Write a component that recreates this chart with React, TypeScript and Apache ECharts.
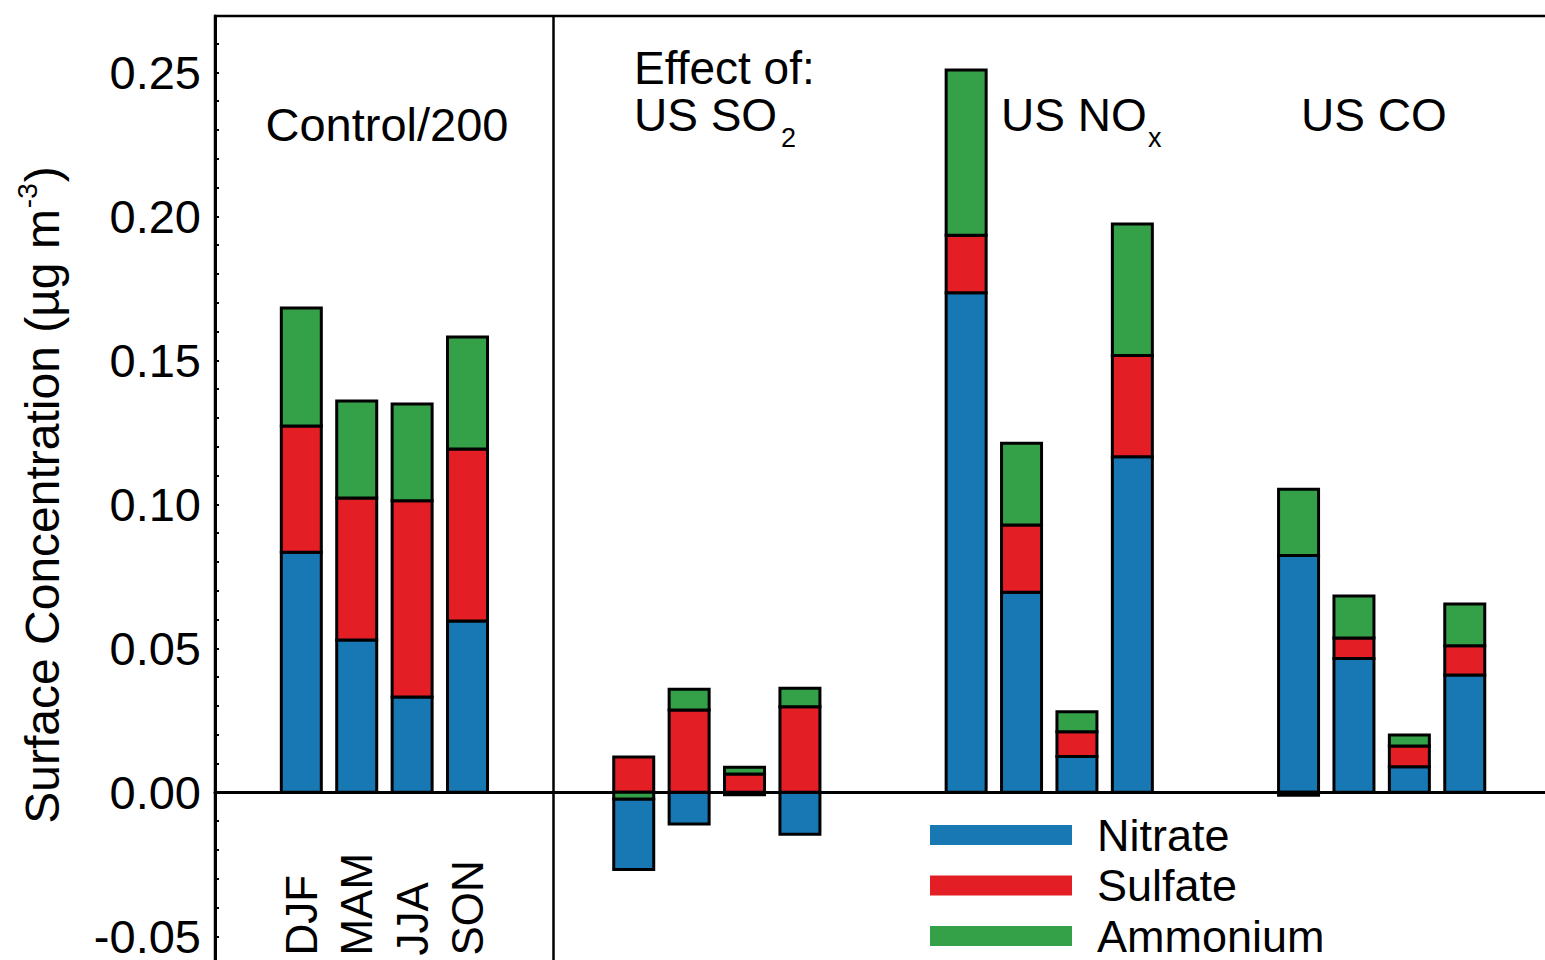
import React, { useEffect, useRef } from "react";
import * as echarts from "echarts";

const FONT = "'Liberation Sans', Arial, Helvetica, sans-serif";

const seasons = ["DJF", "MAM", "JJA", "SON"];
const speciesNames = ["Nitrate", "Sulfate", "Ammonium"];
const speciesColors = ["#1878b4", "#e31e25", "#34a148"];
// slot of every bar on the x axis: group g, season i -> 6*g + i
const barSlots = [0, 1, 2, 3, 6, 7, 8, 9, 12, 13, 14, 15, 18, 19, 20, 21];
// Control/200, US SO2, US NOx, US CO (each DJF, MAM, JJA, SON)
const nitrate = [
  0.0834, 0.0529, 0.0331, 0.0595,
  -0.0245, -0.011, -0.0008, -0.0146,
  0.1735, 0.0695, 0.0124, 0.1165,
  0.0822, 0.0465, 0.0089, 0.0407,
];
const sulfate = [
  0.0438, 0.0493, 0.0681, 0.0597,
  0.0123, 0.0286, 0.0064, 0.0297,
  0.0199, 0.0233, 0.0086, 0.0352,
  -0.001, 0.0071, 0.0072, 0.0102,
];
const ammonium = [
  0.041, 0.0337, 0.0336, 0.0389,
  -0.0023, 0.0072, 0.0023, 0.0064,
  0.0574, 0.0284, 0.007, 0.0456,
  0.023, 0.0146, 0.0038, 0.0145,
];
const yTicks = [-0.05, 0, 0.05, 0.1, 0.15, 0.2, 0.25];
const yTickLabels = ["-0.05", "0.00", "0.05", "0.10", "0.15", "0.20", "0.25"];

const dividerSlot = 4.54;
const seasonLabelY = -0.0567;

export default function App() {
  const ref = useRef<HTMLDivElement>(null);
  useEffect(() => {
    if (!ref.current) return;
    const chart = echarts.init(ref.current, null, { renderer: "svg" });
    const values = [nitrate, sulfate, ammonium];
    // stacked segments: positives upward N,S,A; negatives downward A,S,N
    const segs: any[][] = [[], [], []];
    barSlots.forEach((slot, i) => {
      let pos = 0;
      [0, 1, 2].forEach((k) => {
        const v = values[k][i];
        if (v >= 0) {
          segs[k][i] = [slot, pos, pos + v];
          pos += v;
        }
      });
      let neg = 0;
      [2, 1, 0].forEach((k) => {
        const v = values[k][i];
        if (v < 0) {
          segs[k][i] = [slot, neg, neg + v];
          neg += v;
        }
      });
    });
    const BAR_W = 40;
    const series: any[] = speciesNames.map((name, k) => ({
      type: "custom",
      name,
      silent: true,
      itemStyle: { color: speciesColors[k] },
      encode: { x: 0, y: [1, 2] },
      data: segs[k],
      renderItem: (params: any, api: any) => {
        const x = api.value(0);
        const p0 = api.coord([x, api.value(1)]);
        const p1 = api.coord([x, api.value(2)]);
        return {
          type: "rect",
          shape: {
            x: p0[0] - BAR_W / 2,
            y: Math.min(p0[1], p1[1]),
            width: BAR_W,
            height: Math.abs(p1[1] - p0[1]),
          },
          style: { fill: api.visual("color"), stroke: "#000", lineWidth: 3 },
        };
      },
    }));
    series.push({
      type: "scatter",
      name: "seasons",
      symbolSize: 0,
      silent: true,
      itemStyle: { opacity: 1 },
      data: seasons.map((s, i) => [barSlots[i], seasonLabelY]),
      label: {
        show: true,
        position: "inside",
        rotate: 90,
        align: "left",
        verticalAlign: "middle",
        formatter: (p: any) => seasons[p.dataIndex],
        fontSize: 44,
        fontFamily: FONT,
        color: "#000",
        opacity: 1,
      },
      markLine: {
        silent: true,
        symbol: "none",
        label: { show: false },
        lineStyle: { color: "#000", width: 2.5, type: "solid", opacity: 1 },
        data: [{ xAxis: dividerSlot }],
      },
    });
    const txt = (x: number, y: number, text: string, align: string, size = 46) => ({
      type: "text",
      x,
      y,
      silent: true,
      style: {
        text,
        fill: "#000",
        fontSize: size,
        fontFamily: FONT,
        align,
        verticalAlign: "middle",
      },
    });
    chart.setOption({
      animation: false,
      grid: {
        left: 215,
        top: 16,
        right: 20,
        bottom: 15,
        show: true,
        borderColor: "#000",
        borderWidth: 2.5,
        backgroundColor: "transparent",
      },
      xAxis: {
        type: "value",
        min: -1.558,
        max: 23.08,
        axisLine: { onZero: true, lineStyle: { color: "#000", width: 3 } },
        axisTick: { show: false },
        axisLabel: { show: false },
        splitLine: { show: false },
      },
      yAxis: {
        type: "value",
        min: -0.0669,
        max: 0.26955,
        minInterval: 0.01,
        maxInterval: 0.01,
        axisLine: { show: true, onZero: false, lineStyle: { color: "#000", width: 3 } },
        axisTick: { show: true, inside: true, length: 4, lineStyle: { color: "#000", width: 2 } },
        splitLine: { show: false },
        axisLabel: {
          margin: 14,
          fontSize: 47,
          fontFamily: FONT,
          color: "#000",
          formatter: (v: number) => {
            const idx = yTicks.findIndex((t) => Math.abs(t - v) < 1e-7);
            return idx >= 0 ? yTickLabels[idx] : "";
          },
        },
      },
      legend: {
        data: speciesNames,
        orient: "vertical",
        left: 930,
        top: 810,
        padding: 0,
        itemGap: 0.5,
        itemWidth: 142,
        itemHeight: 20,
        icon: "rect",
        selectedMode: false,
        itemStyle: { borderWidth: 0 },
        textStyle: {
          fontSize: 45,
          lineHeight: 42,
          fontFamily: FONT,
          color: "#000",
          padding: [0, 0, 8, 20],
        },
      },
      graphic: [
        txt(387, 124, "Control/200", "center", 47),
        txt(634, 68, "Effect of:", "left"),
        txt(634, 115, "US SO", "left"),
        txt(781, 138, "2", "left", 27),
        txt(1001, 115, "US NO", "left"),
        txt(1148, 138, "x", "left", 27),
        txt(1301, 115, "US CO", "left"),
        {
          type: "text",
          x: 42,
          y: 495,
          rotation: Math.PI / 2,
          silent: true,
          style: {
            text: "{m|Surface Concentration (µg m}{p|-3}{m|)}",
            align: "center",
            verticalAlign: "middle",
            rich: {
              m: { fontSize: 48, fontFamily: FONT, fill: "#000" },
              p: { fontSize: 28, fontFamily: FONT, fill: "#000", padding: [0, 1, 30, 1] },
            },
          },
        },
      ],
      series,
    });
    return () => chart.dispose();
  }, []);
  return (
    <div
      ref={ref}
      style={{ position: "fixed", left: 0, top: 0, width: 1600, height: 1000, background: "#fff" }}
    />
  );
}
